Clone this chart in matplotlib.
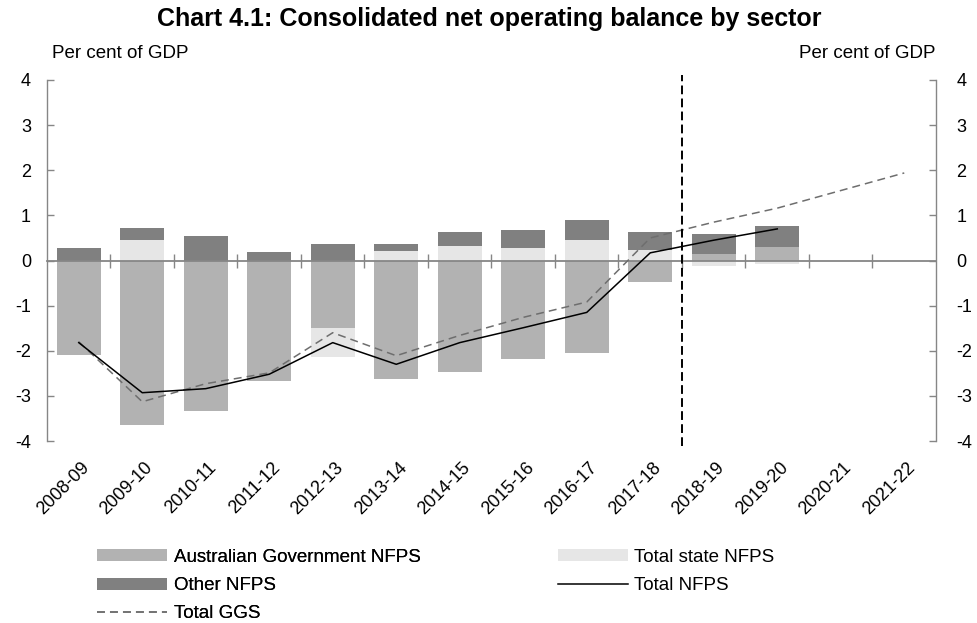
import numpy as np
import matplotlib
matplotlib.use("Agg")
import matplotlib.pyplot as plt
from matplotlib.patches import Patch
from matplotlib.lines import Line2D
from matplotlib.transforms import ScaledTranslation

# Financial years on the horizontal axis
years = ["2008-09", "2009-10", "2010-11", "2011-12", "2012-13", "2013-14",
         "2014-15", "2015-16", "2016-17", "2017-18", "2018-19", "2019-20",
         "2020-21", "2021-22"]

# Net operating balance components, per cent of GDP
ag_nfps = [-2.10, -3.65, -3.33, -2.68, -1.49, -2.63, -2.46, -2.19, -2.06,
           -0.47, 0.14, 0.31]
state_nfps = [0.00, 0.46, 0.00, 0.00, -0.65, 0.20, 0.32, 0.28, 0.46,
              0.24, -0.12, -0.07]
other_nfps = [0.27, 0.26, 0.54, 0.19, 0.36, 0.16, 0.31, 0.39, 0.43,
              0.39, 0.44, 0.45]
total_nfps = [-1.82, -2.93, -2.84, -2.52, -1.82, -2.30, -1.82, -1.49, -1.15,
              0.17, 0.45, 0.70]
total_ggs = [-1.80, -3.13, -2.73, -2.49, -1.60, -2.11, -1.66, -1.26, -0.92,
             0.50, 0.85, 1.16, 1.55, 1.94]

y_ticks = [-4, -3, -2, -1, 0, 1, 2, 3, 4]
forecast_start = 9.5  # boundary between 2017-18 and 2018-19

C_AG = "#b2b2b2"
C_STATE = "#e6e6e6"
C_OTHER = "#808080"
C_AXIS = "#868686"
C_GGS = "#6e6e6e"

plt.rcParams["font.family"] = ["Liberation Sans", "DejaVu Sans"]
plt.rcParams["axes.unicode_minus"] = False
FS = 13.5       # legend and unit labels
FS_TICK = 13    # tick labels

W, H = 978, 623
fig = plt.figure(figsize=(W / 100, H / 100), dpi=100)
ax = fig.add_axes([47 / W, 1 - 441 / H, 889 / W, 361 / H])

x = np.arange(len(years))
n = len(ag_nfps)
pos_base = np.zeros(n)
neg_base = np.zeros(n)
for vals, color in [(ag_nfps, C_AG), (state_nfps, C_STATE), (other_nfps, C_OTHER)]:
    v = np.asarray(vals, dtype=float)
    bottom = np.where(v >= 0, pos_base, neg_base)
    ax.bar(x[:n], v, width=0.69, bottom=bottom, color=color, linewidth=0, zorder=2)
    pos_base += np.clip(v, 0, None)
    neg_base += np.clip(v, None, 0)

ax.plot(x, total_ggs, color=C_GGS, lw=1.1, dashes=(5.2, 3.3), zorder=3)
ax.plot(x[:n], total_nfps, color="black", lw=1.1, zorder=4)

ax.axvline(forecast_start, ymin=-0.015, ymax=1.015, color="black", lw=1.4,
           dashes=(4.5, 2.2), clip_on=False, zorder=5)

ax.set_xlim(-0.5, len(years) - 0.5)
ax.set_ylim(-4, 4)

# Spines: zero line as the category axis, gray value axes both sides
ax.spines["top"].set_visible(False)
ax.spines["bottom"].set_position(("data", 0))
for side in ["bottom", "left", "right"]:
    ax.spines[side].set_color(C_AXIS)
ax.spines["bottom"].set_linewidth(1.3)
ax.spines["left"].set_linewidth(1.0)
ax.spines["right"].set_linewidth(1.0)
ax.spines["bottom"].set_zorder(2.5)

ax.set_yticks(y_ticks)
ax.tick_params(axis="y", which="both", direction="in", length=5, width=1,
               color=C_AXIS, labelsize=FS_TICK, left=True, right=True,
               labelleft=True, labelright=True, pad=11.5)
# right labels sit a little further out
for t in ax.yaxis.get_major_ticks():
    t.label2.set_transform(t.label2.get_transform()
                           + ScaledTranslation(3 / 72, 0, fig.dpi_scale_trans))

ax.set_xticks(np.arange(len(years) - 1) + 0.5)
ax.tick_params(axis="x", direction="inout", length=9.5, width=1, color=C_AXIS,
               labelbottom=False)

sec = ax.secondary_xaxis("bottom")
sec.spines["bottom"].set_visible(False)
sec.set_xticks(x, labels=years)
sec.tick_params(axis="x", length=0, pad=13, labelsize=FS_TICK)
offset = ScaledTranslation(1.5 / 72, 0, fig.dpi_scale_trans)
for lab in sec.get_xticklabels():
    lab.set_rotation(45)
    lab.set_ha("right")
    lab.set_va("top")
    lab.set_rotation_mode("anchor")
    lab.set_transform(lab.get_transform() + offset)

fig.text(0.5, 1 - 19 / H, "Chart 4.1: Consolidated net operating balance by sector",
         ha="center", va="center", fontsize=18, fontweight="bold")
fig.text(52 / W, 1 - 53 / H, "Per cent of GDP", ha="left", va="center", fontsize=FS)
fig.text(936 / W, 1 - 53 / H, "Per cent of GDP", ha="right", va="center", fontsize=FS)

leg_kw = dict(loc="upper left", frameon=False, fontsize=FS, borderpad=0,
              borderaxespad=0, handlelength=3.75, handleheight=0.6,
              handletextpad=0.33, labelspacing=0.6)
col1 = [Patch(facecolor=C_AG, label="Australian Government NFPS"),
        Patch(facecolor=C_OTHER, label="Other NFPS"),
        Line2D([], [], color=C_GGS, lw=1.1, dashes=(5.2, 3.3), label="Total GGS")]
col2 = [Patch(facecolor=C_STATE, label="Total state NFPS"),
        Line2D([], [], color="black", lw=1.1, label="Total NFPS")]
leg1 = fig.legend(handles=col1, bbox_to_anchor=(97 / W, 1 - 549 / H), **leg_kw)
fig.add_artist(leg1)
fig.legend(handles=col2, bbox_to_anchor=(558 / W, 1 - 549 / H), **leg_kw)

fig.savefig("out.png", dpi=100)
